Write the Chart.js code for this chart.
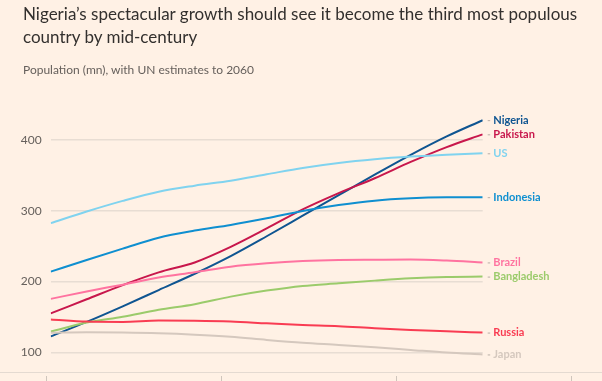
<!DOCTYPE html>
<html><head><meta charset="utf-8">
<script src="https://cdn.jsdelivr.net/npm/chart.js@4/dist/chart.umd.min.js"></script>
<style>
html,body{margin:0;padding:0;background:#fff1e5;}
#wrap{position:relative;width:602px;height:381px;overflow:hidden;background:#fff1e5;}
#title{position:absolute;left:23px;top:3px;font-family:Lato,'Noto Sans',sans-serif;font-size:17px;line-height:22.5px;color:#33302e;white-space:nowrap;z-index:2;}
#sub{position:absolute;left:23px;top:63px;font-family:Lato,'Noto Sans',sans-serif;font-size:12px;line-height:14px;color:#66605c;white-space:nowrap;z-index:2;}
canvas{position:absolute;left:0;top:0;}
</style></head>
<body><div id="wrap">
<div id="title">Nigeria’s spectacular growth should see it become the third most populous<br>country by mid-century</div>
<div id="sub">Population (mn), with UN estimates to 2060</div>
<canvas id="c" width="602" height="381"></canvas>
</div>
<script>
const years = [2000,2005,2010,2015,2020,2025,2030,2035,2040,2045,2050,2055,2060];
const nigeria    = [122.5,143,165,188,211,236,264,293,322,351,379,405,428];
const pakistan   = [155,175,195,213,227,249,275,302,325,346,369,390,408];
const us         = [282.5,299,314,327,335.5,342.5,351.5,360.5,367.5,372.7,376.5,379.3,381.2];
const indonesia  = [214,230.5,246.5,262,272,280,289.4,299.7,308,314.3,317.6,319,319.2];
const brazil     = [175.5,186,195.6,205.6,213,221,225.8,229,230.5,230.8,231,229.6,227];
const bangladesh = [129.3,142,150.4,160,168,178.7,187.2,193.8,197.5,201.3,204.6,206.5,207];
const russia     = [146.5,143.5,143,144.8,144.5,143.4,141,138.7,137,134,131.6,129.8,127.9];
const japan      = [127.5,128.4,128,127,125,122,117.5,113.5,110.5,107.2,103.4,99.6,97];
const yTickValues = [100,200,300,400];
const xTickYears = [1999.35,2023.65,2047.95,2072.25];

const series = [
  {label:'Japan', data:japan, color:'#d5c8be'},
  {label:'Russia', data:russia, color:'#f93c52'},
  {label:'Bangladesh', data:bangladesh, color:'#9bcb6b'},
  {label:'Brazil', data:brazil, color:'#ff73a0'},
  {label:'Indonesia', data:indonesia, color:'#0f8fd0'},
  {label:'US', data:us, color:'#80d3ef'},
  {label:'Pakistan', data:pakistan, color:'#c8174c'},
  {label:'Nigeria', data:nigeria, color:'#0f5591'}
];

const endLabels = {
  id:'endLabels',
  afterDatasetsDraw(chart){
    const ctx = chart.ctx;
    ctx.save();
    chart.data.datasets.forEach((ds,i)=>{
      const meta = chart.getDatasetMeta(i);
      const pt = meta.data[meta.data.length-1];
      ctx.strokeStyle = '#b9afa7';
      ctx.lineWidth = 1;
      ctx.beginPath();
      ctx.moveTo(pt.x+5, pt.y+0.5);
      ctx.lineTo(pt.x+7.5, pt.y+0.5);
      ctx.stroke();
      ctx.fillStyle = ds.borderColor;
      ctx.font = 'bold 11px Lato, "Noto Sans", sans-serif';
      ctx.textAlign = 'left';
      ctx.textBaseline = 'middle';
      ctx.fillText(ds.label, pt.x+10.6, pt.y);
    });
    ctx.restore();
  }
};

const bottomAxis = {
  id:'bottomAxis',
  afterDraw(chart){
    const ctx = chart.ctx, xs = chart.scales.x, b = chart.chartArea.bottom;
    ctx.save();
    ctx.strokeStyle = '#e4dad1';
    ctx.lineWidth = 1;
    ctx.beginPath();
    ctx.moveTo(0, b+0.5); ctx.lineTo(chart.width, b+0.5);
    ctx.stroke();
    ctx.strokeStyle = '#cfc5bc';
    xTickYears.forEach(v=>{
      const x = Math.round(xs.getPixelForValue(v))+0.5;
      ctx.beginPath(); ctx.moveTo(x, b+4); ctx.lineTo(x, b+10); ctx.stroke();
    });
    ctx.restore();
  }
};

new Chart(document.getElementById('c'), {
  type:'line',
  data:{
    datasets: series.map(s=>({
      label:s.label,
      data:s.data.map((v,i)=>({x:years[i], y:v})),
      borderColor:s.color,
      backgroundColor:s.color,
      borderWidth:2,
      pointRadius:0,
      cubicInterpolationMode:'monotone',
      fill:false
    }))
  },
  options:{
    responsive:false,
    animation:false,
    devicePixelRatio:1,
    layout:{padding:{top:100,right:119.3,bottom:9,left:0}},
    plugins:{legend:{display:false},tooltip:{enabled:false}},
    scales:{
      x:{type:'linear', min:2000, max:2060, display:false},
      y:{
        min:72.2, max:456.5,
        afterFit(s){ s.width = 50.7; s.paddingTop = 0; s.paddingBottom = 0; },
        afterBuildTicks(s){ s.ticks = yTickValues.map(v=>({value:v})); },
        grid:{color:'#e8ddd3', lineWidth:1.5, drawTicks:false},
        border:{display:false},
        ticks:{padding:9, color:'#66605c', font:{family:'Lato, "Noto Sans", sans-serif', size:12}}
      }
    }
  },
  plugins:[endLabels, bottomAxis]
});
</script>
</body></html>
